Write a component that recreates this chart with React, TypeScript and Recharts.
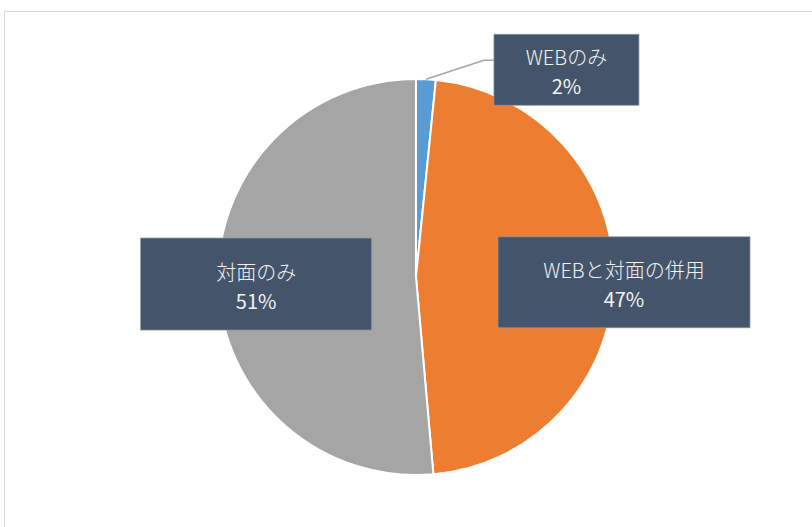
import React from "react";
import { PieChart, Pie, Cell } from "recharts";

const categories = ["WEBのみ", "WEBと対面の併用", "対面のみ"];
const shares = [1.6, 47.0, 51.4];
const colors = ["#5B9BD5", "#ED7D31", "#A5A5A5"];

const data = categories.map((name, i) => ({ name, value: shares[i] }));

const RADIAN = Math.PI / 180;
const FONT = "'Noto Sans CJK JP', 'Noto Sans', sans-serif";

// label box sizes and how far out they sit along each slice's mid angle
const boxSize = [
  { w: 145, h: 71 },
  { w: 252, h: 91 },
  { w: 231, h: 92 },
];
const labelRadius = [0, 208, 160];

type LabelProps = {
  cx: number;
  cy: number;
  midAngle: number;
  outerRadius: number;
  index: number;
  name: string;
  value: number;
};

const renderLabel = ({ cx, cy, midAngle, outerRadius, index, name, value }: LabelProps) => {
  const { w, h } = boxSize[index];
  const cos = Math.cos(-midAngle * RADIAN);
  const sin = Math.sin(-midAngle * RADIAN);
  const pct = `${Math.round(value)}%`;

  let bx: number;
  let by: number;
  let leader: React.ReactNode = null;

  if (index === 0) {
    // small slice: label pulled out with a leader line
    const ax = cx + outerRadius * cos;
    const ay = cy + outerRadius * sin;
    const ex = ax + 58;
    const ey = ay - 19;
    bx = ex + 10;
    by = ey - 26;
    leader = (
      <polyline
        points={`${ax},${ay} ${ex},${ey} ${bx},${ey}`}
        fill="none"
        stroke="#A6A6A6"
        strokeWidth={1.5}
      />
    );
  } else {
    const r = labelRadius[index];
    const mx = cx + r * cos;
    const my = cy + r * sin;
    bx = mx - w / 2;
    by = my - h / 2 + (index === 1 ? 4 : 0);
  }

  return (
    <g key={`lbl-${index}`}>
      {leader}
      <rect x={bx} y={by} width={w} height={h} fill="#44546A" stroke="#8C96A3" strokeWidth={0.75} />
      <text
        x={bx + w / 2}
        y={by + h / 2 - 13}
        fill="#F2F2F2"
        textAnchor="middle"
        dominantBaseline="central"
        fontSize={20}
        fontFamily={FONT}
        fontWeight={300}
      >
        {name}
      </text>
      <text
        x={bx + w / 2}
        y={by + h / 2 + 16}
        fill="#F2F2F2"
        textAnchor="middle"
        dominantBaseline="central"
        fontSize={20}
        fontFamily={FONT}
      >
        {pct}
      </text>
    </g>
  );
};

export default function App() {
  return (
    <div
      style={{
        position: "fixed",
        left: 0,
        top: 0,
        width: 812,
        height: 527,
        background: "#FFFFFF",
        overflow: "hidden",
      }}
    >
      {/* chart area frame */}
      <div
        style={{
          position: "absolute",
          left: 4,
          top: 11,
          width: 840,
          height: 540,
          border: "1.5px solid #D9D9D9",
          boxSizing: "border-box",
        }}
      />
      <div style={{ position: "absolute", left: 0, top: 0 }}>
        <PieChart width={812} height={527}>
          <Pie
            data={data}
            dataKey="value"
            nameKey="name"
            cx={411}
            cy={272}
            outerRadius={198}
            startAngle={90}
            endAngle={-270}
            stroke="#FFFFFF"
            strokeWidth={2}
            labelLine={false}
            label={renderLabel}
            isAnimationActive={false}
          >
            {data.map((entry, i) => (
              <Cell key={`cell-${i}`} fill={colors[i]} />
            ))}
          </Pie>
        </PieChart>
      </div>
    </div>
  );
}
